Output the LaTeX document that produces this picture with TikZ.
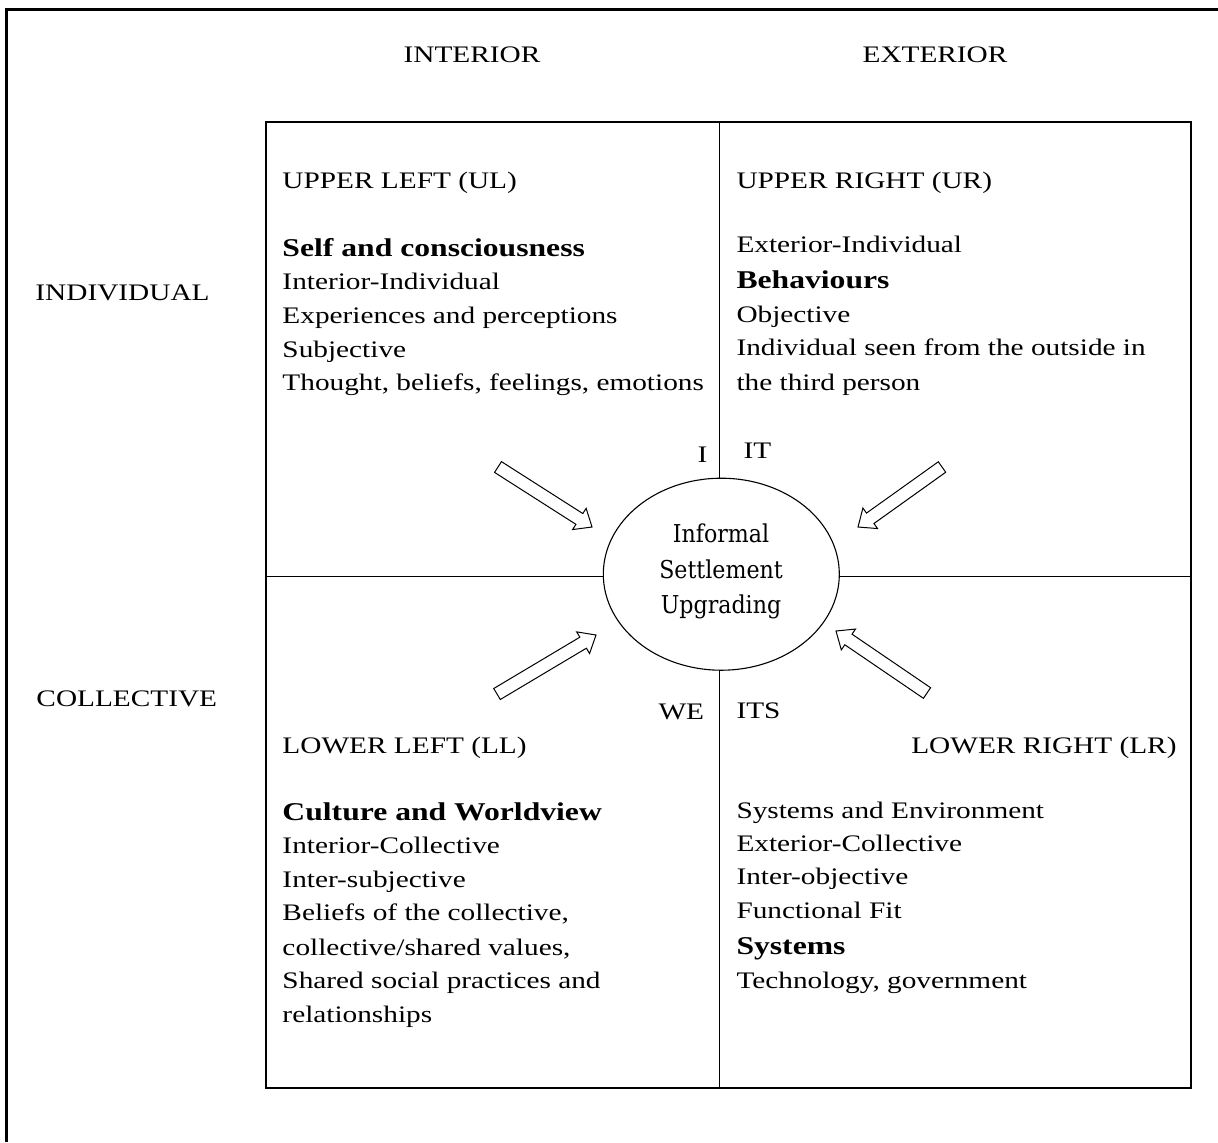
\documentclass[tikz,border=0pt]{standalone}
\usepackage{fontspec}
\setmainfont{Liberation Serif}
\newfontfamily\ellfont{DejaVu Serif}
\usetikzlibrary{calc,shapes.geometric}
\tikzset{
  body/.style={font=\fontsize{11.85}{14}\selectfont, xscale=1.236, inner sep=0pt, anchor=base west},
  bodyb/.style={body, font=\fontsize{12.8}{15}\selectfont\bfseries},
  head/.style={body, anchor=base},
  elltxt/.style={font=\ellfont\fontsize{12.3}{14}\selectfont, xscale=0.9, inner sep=0pt, anchor=base},
  frame/.style={line width=1.25pt},
  grid/.style={line width=0.65pt},
  blockarr/.style={line width=0.5pt, fill=white, line join=miter},
  oval/.style={ellipse, draw, line width=0.55pt, fill=white, inner sep=0pt, minimum width=118pt, minimum height=96pt}
}
\newcommand\hollowarrow[2]{%
  \coordinate (#1h) at ($(#2)!7.5pt!(#1)$);
  \draw[blockarr] ($(#1)!3.2pt!90:(#2)$) -- ($(#1h)!3.2pt!-90:(#1)$) -- ($(#1h)!6.3pt!-90:(#1)$) -- (#2)
     -- ($(#1h)!6.3pt!90:(#1)$) -- ($(#1h)!3.2pt!90:(#1)$) -- ($(#1)!3.2pt!-90:(#2)$) -- cycle;}
\begin{document}
\begin{tikzpicture}[x=0.5pt,y=-0.5pt]
\useasboundingbox (0,0) rectangle (1218,1142);
% outer frame (top and left edges visible)
\coordinate (frTR) at (1218,9.5);
\coordinate (frTL) at (6.5,9.5);
\coordinate (frBL) at (6.5,1142);
\draw[frame] (frTR) -- (frTL) -- (frBL);
% quadrant box
\coordinate (bxTL) at (266,122);
\coordinate (bxBR) at (1191,1088);
\coordinate (vT) at (719.3,122);
\coordinate (vB) at (719.3,1088);
\coordinate (hL) at (266,576.7);
\coordinate (hR) at (1191,576.7);
\draw[grid] (bxTL) rectangle (bxBR);
\draw[grid] (vT) -- (vB);
\draw[grid] (hL) -- (hR);
% centre ellipse
\node[oval] (isu) at (721.3,574.2) {};
\node[elltxt] (isu1) at (721,542) {Informal};
\node[elltxt] (isu2) at (721,578) {Settlement};
\node[elltxt] (isu3) at (721,613) {Upgrading};
% block arrows
\coordinate (ulT) at (498,467);   \coordinate (ulP) at (592,527);
\coordinate (urT) at (942,467);   \coordinate (urP) at (858,527);
\coordinate (llT) at (497,694);   \coordinate (llP) at (596,635);
\coordinate (lrT) at (927,693);   \coordinate (lrP) at (836,631);
\hollowarrow{ulT}{ulP}
\hollowarrow{urT}{urP}
\hollowarrow{llT}{llP}
\hollowarrow{lrT}{lrP}
% headings
\node[head] (hInt) at (472,62) {INTERIOR};
\node[head] (hExt) at (935,62) {EXTERIOR};
\node[body] (hInd) at (35,300) {INDIVIDUAL};
\node[body] (hCol) at (36,706) {COLLECTIVE};
% upper left
\node[body]  (ul0) at (282,188) {UPPER LEFT (UL)};
\node[bodyb] (ul1) at (282,256) {Self and consciousness};
\node[body]  (ul2) at (282,289) {Interior-Individual};
\node[body]  (ul3) at (282,323) {Experiences and perceptions};
\node[body]  (ul4) at (282,357) {Subjective};
\node[body]  (ul5) at (282,390) {Thought, beliefs, feelings, emotions};
% upper right
\node[body]  (ur0) at (736,188) {UPPER RIGHT (UR)};
\node[body]  (ur1) at (736,252) {Exterior-Individual};
\node[bodyb] (ur2) at (736,288) {Behaviours};
\node[body]  (ur3) at (736,322) {Objective};
\node[body]  (ur4) at (736,355) {Individual seen from the outside in};
\node[body]  (ur5) at (736,390) {the third person};
% pronouns
\node[body] (pI)   at (697,462) {I};
\node[body] (pIT)  at (743,458) {IT};
\node[body] (pWE)  at (658,719) {WE};
\node[body] (pITS) at (736,718) {ITS};
% lower left
\node[body]  (ll0) at (282,753) {LOWER LEFT (LL)};
\node[bodyb] (ll1) at (282,820) {Culture and Worldview};
\node[body]  (ll2) at (282,853) {Interior-Collective};
\node[body]  (ll3) at (282,887) {Inter-subjective};
\node[body]  (ll4) at (282,920) {Beliefs of the collective,};
\node[body]  (ll5) at (282,955) {collective/shared values,};
\node[body]  (ll6) at (282,988) {Shared social practices and};
\node[body]  (ll7) at (282,1022) {relationships};
% lower right
\node[body, anchor=base east] (lr0) at (1177,753) {LOWER RIGHT (LR)};
\node[body]  (lr1) at (736,818) {Systems and Environment};
\node[body]  (lr2) at (736,851) {Exterior-Collective};
\node[body]  (lr3) at (736,884) {Inter-objective};
\node[body]  (lr4) at (736,918) {Functional Fit};
\node[bodyb] (lr5) at (736,954) {Systems};
\node[body]  (lr6) at (736,988) {Technology, government};
\end{tikzpicture}
\end{document}
